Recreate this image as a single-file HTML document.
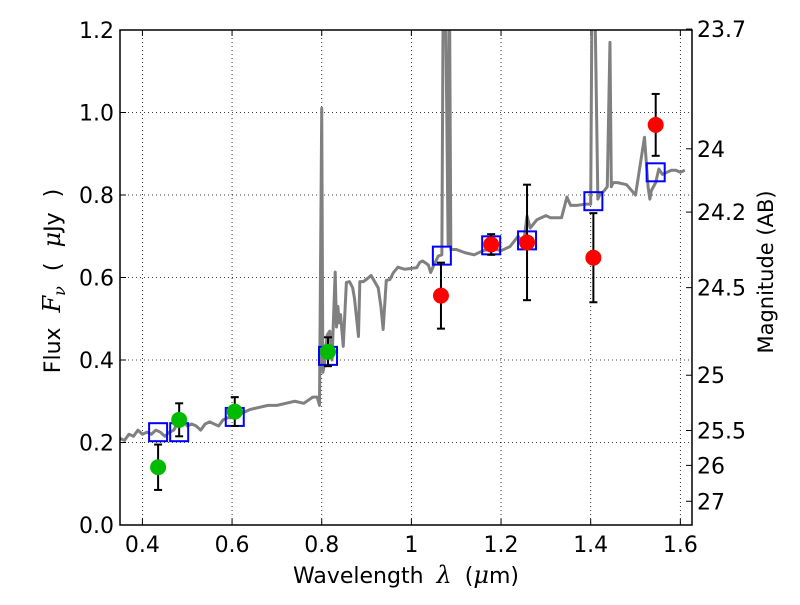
<!DOCTYPE html>
<html><head><meta charset="utf-8"><style>
body{margin:0;background:#fff}
svg text{font-family:"DejaVu Sans","Liberation Sans",sans-serif;fill:#000}
</style></head><body>
<svg id="chart" width="800" height="600"></svg>
<script>
const xTicks=[0.4,0.6,0.8,1.0,1.2,1.4,1.6];
const xTickLabels=["0.4","0.6","0.8","1","1.2","1.4","1.6"];
const yTicks=[0,0.2,0.4,0.6,0.8,1.0,1.2];
const yTickLabels=["0.0","0.2","0.4","0.6","0.8","1.0","1.2"];
const magTicks=[23.7,24,24.2,24.5,25,25.5,26,27];
const magLabels=["23.7","24","24.2","24.5","25","25.5","26","27"];
const specX=[0.35,0.36,0.37,0.38,0.39,0.40,0.41,0.42,0.43,0.44,0.45,0.46,0.47,0.48,0.49,0.50,0.51,0.52,0.53,0.54,0.55,0.56,0.57,0.58,0.59,0.60,0.62,0.64,0.66,0.68,0.70,0.72,0.74,0.76,0.78,0.79,0.795,0.80,0.8025,0.806,0.812,0.818,0.823,0.830,0.833,0.836,0.839,0.842,0.848,0.855,0.862,0.869,0.873,0.882,0.885,0.893,0.905,0.910,0.918,0.926,0.932,0.937,0.944,0.952,0.96,0.97,0.985,1.0,1.012,1.019,1.025,1.032,1.038,1.043,1.05,1.06,1.068,1.071,1.076,1.082,1.085,1.088,1.10,1.12,1.14,1.16,1.182,1.20,1.22,1.238,1.25,1.258,1.265,1.28,1.30,1.31,1.335,1.347,1.355,1.37,1.39,1.40,1.403,1.409,1.416,1.42,1.43,1.437,1.443,1.446,1.45,1.46,1.48,1.50,1.52,1.528,1.532,1.535,1.545,1.552,1.56,1.57,1.58,1.59,1.60,1.61,1.62,1.626];
const specY=[0.21,0.205,0.22,0.215,0.23,0.22,0.225,0.22,0.23,0.225,0.215,0.225,0.23,0.25,0.26,0.24,0.245,0.24,0.23,0.245,0.25,0.245,0.24,0.255,0.26,0.26,0.27,0.28,0.285,0.29,0.29,0.295,0.3,0.295,0.31,0.31,0.29,1.01,0.37,0.39,0.46,0.47,0.40,0.613,0.48,0.53,0.49,0.51,0.433,0.588,0.59,0.575,0.55,0.457,0.59,0.59,0.60,0.605,0.59,0.575,0.53,0.474,0.593,0.595,0.612,0.625,0.62,0.622,0.624,0.637,0.64,0.635,0.63,0.612,0.63,0.652,0.655,1.3,1.3,0.68,1.3,0.668,0.668,0.66,0.655,0.665,0.67,0.665,0.675,0.70,0.68,0.749,0.72,0.74,0.75,0.745,0.745,0.795,0.775,0.775,0.778,0.778,1.3,1.3,0.79,0.80,0.81,0.82,1.17,0.82,0.83,0.83,0.825,0.80,0.94,0.82,0.79,0.81,0.83,0.863,0.85,0.855,0.86,0.86,0.855,0.86];
const blueX=[0.435,0.482,0.606,0.814,1.068,1.178,1.258,1.406,1.545];
const blueY=[0.225,0.225,0.262,0.41,0.653,0.678,0.69,0.785,0.855];
const greenX=[0.435,0.482,0.606,0.814];
const greenY=[0.14,0.255,0.275,0.42];
const greenErr=[0.055,0.04,0.035,0.035];
const redX=[1.066,1.178,1.258,1.406,1.545];
const redY=[0.556,0.68,0.685,0.648,0.97];
const redErr=[0.08,0.025,0.14,0.108,0.075];

const L=120,R=692,T=30,B=525,x0=0.35,x1=1.626,y0=0,y1=1.2;
const sx=v=>L+(v-x0)/(x1-x0)*(R-L);
const sy=v=>B-(v-y0)/(y1-y0)*(B-T);
const NS="http://www.w3.org/2000/svg";
const svg=document.getElementById('chart');
function mk(tag,attrs,parent){const e=document.createElementNS(NS,tag);for(const k in attrs)e.setAttribute(k,attrs[k]);(parent||svg).appendChild(e);return e;}
const defs=mk('defs',{});const cp=mk('clipPath',{id:'pc'},defs);mk('rect',{x:L,y:T,width:R-L,height:B-T},cp);

xTicks.forEach((v,i)=>{
 const g=mk('line',{x1:sx(v),x2:sx(v),y1:T,y2:B,stroke:'#000','stroke-width':0.8,'stroke-dasharray':'1,3'});
 
 mk('line',{x1:sx(v),x2:sx(v),y1:B,y2:B-6,stroke:'#000'});
 mk('line',{x1:sx(v),x2:sx(v),y1:T,y2:T+6,stroke:'#000'});
 const t=mk('text',{x:sx(v),y:B+27,'text-anchor':'middle','font-size':22});t.textContent=xTickLabels[i];
 
});
yTicks.forEach((v,i)=>{
 const g=mk('line',{x1:L,x2:R,y1:sy(v),y2:sy(v),stroke:'#000','stroke-width':0.8,'stroke-dasharray':'1,3'});
 
 mk('line',{x1:L,x2:L+6,y1:sy(v),y2:sy(v),stroke:'#000'});
 const t=mk('text',{x:L-6,y:sy(v)+8,'text-anchor':'end','font-size':22});t.textContent=yTickLabels[i];
 
});
magTicks.forEach((m,i)=>{
 const f=Math.pow(10,(23.9-m)/2.5);const y=sy(f);
 mk('line',{x1:R,x2:R-6,y1:y,y2:y,stroke:'#000'});
 const t=mk('text',{x:R+5,y:y+8,'font-size':22});t.textContent=magLabels[i];
 
});

const g=mk('g',{'clip-path':'url(#pc)'});
const sp=mk('polyline',{points:specX.map((x,i)=>sx(x)+','+sy(specY[i])).join(' '),fill:'none',stroke:'#808080','stroke-width':3,'stroke-linejoin':'round'},g);

blueX.forEach((x,i)=>{
 const r=mk('rect',{x:sx(x)-9,y:sy(blueY[i])-9,width:18,height:18,fill:'none',stroke:'#0000ff','stroke-width':2},g);
 
});
function pts(X,Y,E,col,name){X.forEach((x,i)=>{
 const cx=sx(x);
 mk('line',{x1:cx,x2:cx,y1:sy(Y[i]-E[i]),y2:sy(Y[i]+E[i]),stroke:'#000','stroke-width':2},g);
 [Y[i]-E[i],Y[i]+E[i]].forEach(v=>mk('line',{x1:cx-4,x2:cx+4,y1:sy(v),y2:sy(v),stroke:'#000','stroke-width':2},g));
 const c=mk('circle',{cx:cx,cy:sy(Y[i]),r:8,fill:col},g);
 
});}
pts(greenX,greenY,greenErr,'#00bb00','optical-flux-point');
pts(redX,redY,redErr,'#ff0000','nir-flux-point');

const fr=mk('rect',{x:L,y:T,width:R-L,height:B-T,fill:'none',stroke:'#000','stroke-width':1.5});

</script>
<svg width="800" height="600" style="position:absolute;left:0;top:0;pointer-events:none">
<text x="406" y="583" text-anchor="middle" font-size="22" word-spacing="6">Wavelength  <tspan font-family="DejaVu Serif" font-style="italic" font-size="24">λ</tspan> (<tspan font-family="DejaVu Serif" font-style="italic" font-size="24">μ</tspan>m)</text>
<text transform="translate(60,281) rotate(-90)" text-anchor="middle" font-size="22" word-spacing="8">Flux <tspan font-family="DejaVu Serif" font-style="italic" font-size="24">F</tspan><tspan font-family="DejaVu Serif" font-style="italic" font-size="16" dy="5">ν</tspan><tspan dy="-5"> ( </tspan><tspan font-family="DejaVu Serif" font-style="italic" font-size="24">μ</tspan>Jy )</text>
<text transform="translate(773,272) rotate(-90)" text-anchor="middle" font-size="21">Magnitude (AB)</text>
</svg>
</body></html>
